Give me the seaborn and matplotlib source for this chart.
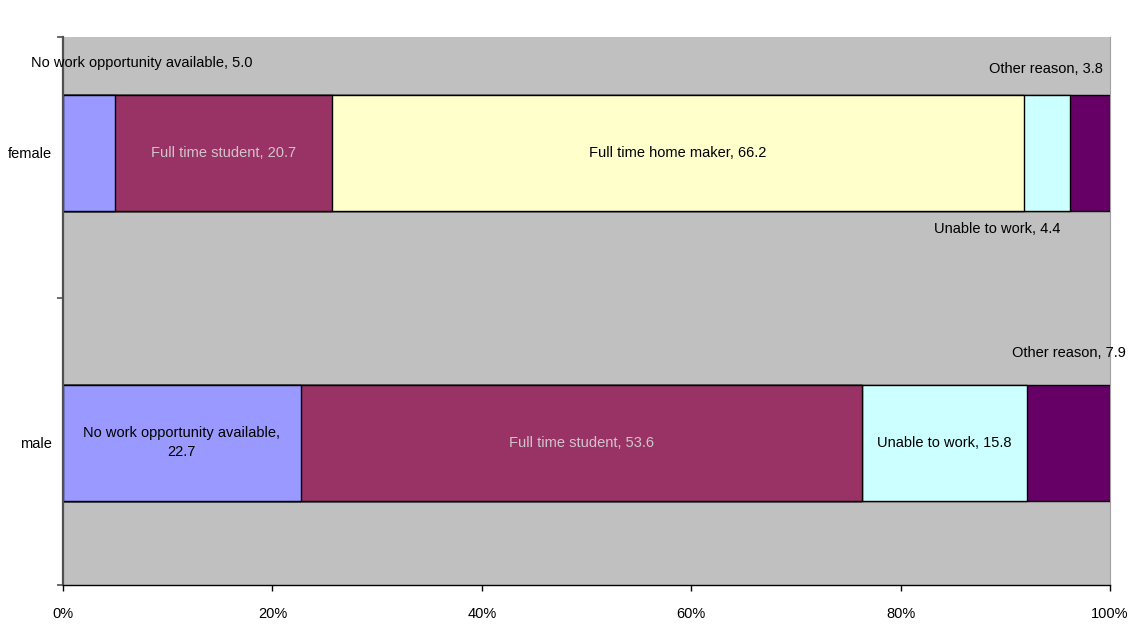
import numpy as np
import pandas as pd
import matplotlib
matplotlib.use("Agg")
import matplotlib.pyplot as plt
import seaborn as sns

# data
groups = ["female", "male"]
reasons = ["No work opportunity available", "Full time student",
           "Full time home maker", "Unable to work", "Other reason"]
female_vals = [5.0, 20.7, 66.2, 4.4, 3.8]
male_vals = [22.7, 53.6, 0.0, 15.8, 7.9]
colours = ["#9999FF", "#993366", "#FFFFCC", "#CCFFFF", "#660066"]
tick_vals = [0, 20, 40, 60, 80, 100]

sns.set_style("white")
plt.rcParams["font.family"] = ["Liberation Sans", "DejaVu Sans"]
plt.rcParams["text.color"] = "black"
plt.rcParams["xtick.labelcolor"] = "black"
plt.rcParams["ytick.labelcolor"] = "black"

#Build a long table, normalised to 100% like the original stacked chart
vals = np.array([female_vals, male_vals])
pct = vals / vals.sum(axis=1, keepdims=True) * 100
cum = np.cumsum(pct, axis=1)

fig = plt.figure(figsize=(11.32, 6.24), dpi=100)
ax = fig.add_axes([63 / 1132, 39 / 624, 1047 / 1132, 548 / 624])
ax.set_facecolor("#C0C0C0")

#Draw from the longest cumulative bar down so the segments stack
for i in range(len(reasons) - 1, -1, -1):
    df = pd.DataFrame({"group": groups, "cum": cum[:, i]})
    sns.barplot(data=df, x="cum", y="group", orient="h", color=colours[i],
                saturation=1, width=0.4, edgecolor="black", linewidth=1,
                ax=ax)

ax.set_xlim(0, 100)
ax.set_ylim(1.49, -0.4)
ax.set_xlabel("")
ax.set_ylabel("")

#Labels
fs = 10.5
starts = cum - pct
centres = starts + pct / 2
light = "#D2C4CC"
# female
ax.text(-3.1, -0.31, f"{reasons[0]}, {female_vals[0]:.1f}", ha="left", va="center", fontsize=fs)
ax.text(centres[0, 1], 0, f"{reasons[1]}, {female_vals[1]:.1f}", ha="center", va="center", fontsize=fs, color=light)
ax.text(centres[0, 2], 0, f"{reasons[2]}, {female_vals[2]:.1f}", ha="center", va="center", fontsize=fs)
ax.text(centres[0, 3] - 4.8, 0.262, f"{reasons[3]}, {female_vals[3]:.1f}", ha="center", va="center", fontsize=fs)
ax.text(99.3, -0.29, f"{reasons[4]}, {female_vals[4]:.1f}", ha="right", va="center", fontsize=fs)
# male
ax.text(centres[1, 0], 1, f"{reasons[0]},\n{male_vals[0]:.1f}", ha="center", va="center",
        fontsize=fs, linespacing=1.45)
ax.text(centres[1, 1], 1, f"{reasons[1]}, {male_vals[1]:.1f}", ha="center", va="center", fontsize=fs, color=light)
ax.text(centres[1, 3], 1, f"{reasons[3]}, {male_vals[3]:.1f}", ha="center", va="center", fontsize=fs)
ax.text(centres[1, 4], 0.69, f"{reasons[4]}, {male_vals[4]:.1f}", ha="center", va="center", fontsize=fs,
        clip_on=False)

#Axes styling
ax.set_xticks(tick_vals)
ax.set_xticklabels([f"{t}%" for t in tick_vals], fontsize=fs)
ax.tick_params(axis="x", bottom=True, direction="out", length=4, width=1, color="black", pad=12)
ax.set_yticks([0, 1])
ax.set_yticklabels(groups, fontsize=fs)
ax.tick_params(axis="y", which="major", left=True, length=0, pad=8)
ax.set_yticks([-0.4, 0.5, 1.49], minor=True)
ax.tick_params(axis="y", which="minor", left=True, direction="out", length=4, width=1.2, color="#505050")

ax.spines["top"].set_visible(False)
ax.spines["right"].set_color("#A0A0A0")
ax.spines["right"].set_linewidth(0.8)
ax.spines["left"].set_color("#505050")
ax.spines["left"].set_linewidth(1.6)
ax.spines["bottom"].set_color("black")
ax.spines["bottom"].set_linewidth(1)

fig.savefig("out.png", dpi=100, facecolor="white")
